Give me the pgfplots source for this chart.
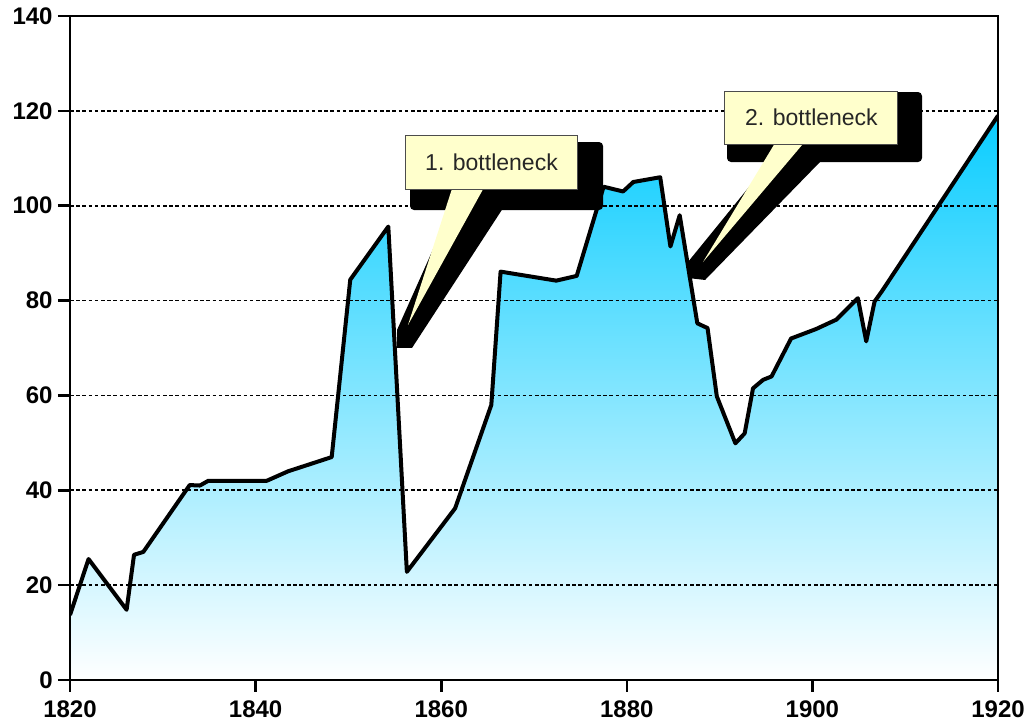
\documentclass[border=0pt]{standalone}
\usepackage{fontspec}
\setmainfont{Liberation Sans}
\usepackage{pgfplots}
\pgfplotsset{compat=1.18}

\definecolor{areatop}{RGB}{10,205,255}
\definecolor{notefill}{RGB}{255,255,204}

\begin{document}
\begin{tikzpicture}
  %% 1 px of the reference = 0.5pt
  \begin{axis}[
    scale only axis,
    width=464pt, height=332pt,
    xmin=1820, xmax=1920,
    ymin=0, ymax=140,
    xtick={1820,1840,...,1920},
    ytick={0,20,...,140},
    xtick pos=bottom, ytick pos=left,
    tick align=outside,
    major tick length=6pt,
    tick style={black, line width=1.3pt},
    axis line style={black, line width=1.4pt},
    axis on top,
    /pgf/number format/assume math mode=true,
    /pgf/number format/1000 sep={},
    ticklabel style={font=\bfseries\fontsize{12}{14}\selectfont, inner sep=0pt},
    yticklabel style={anchor=east, xshift=-2.5pt},
    xticklabel style={anchor=north, yshift=-4pt},
  ]
    %% area under the curve
    \addplot[draw=none, top color=areatop, bottom color=white] coordinates {
      (1820,13.7) (1822,25.5) (1826.1,14.8) (1826.9,26.4) (1827.9,27)
      (1832.9,41.1) (1834,41) (1834.9,42) (1841.2,42) (1843.5,44)
      (1848.2,47) (1850.2,84.4) (1854.3,95.6) (1856.3,22.8) (1861.5,36.2)
      (1865.4,58) (1866.4,86.1) (1872.4,84.2) (1874.6,85.2) (1877.5,104)
      (1879.6,103) (1880.7,105) (1883.6,106) (1884.7,91.4) (1885.7,98)
      (1887.6,75.2) (1888.7,74.2) (1889.7,59.8) (1891.7,49.9) (1892.7,52)
      (1893.6,61.5) (1894.7,63.3) (1895.6,64) (1897.7,72) (1900.4,74)
      (1902.6,76) (1904.9,80.5) (1905.8,71.4) (1906.7,79.8) (1907.5,82)
      (1920,119)
    } \closedcycle;

    %% dotted grid, above the fill and below the outline
    \pgfplotsinvokeforeach{20,40,60,80,100,120}{
      \draw[black, line width=0.9pt, dash pattern=on 1.8pt off 1.3pt]
        (axis cs:1820,#1) -- (axis cs:1920,#1);
    }

    %% outline
    \addplot[black, line width=2pt, line join=round] coordinates {
      (1820,13.7) (1822,25.5) (1826.1,14.8) (1826.9,26.4) (1827.9,27)
      (1832.9,41.1) (1834,41) (1834.9,42) (1841.2,42) (1843.5,44)
      (1848.2,47) (1850.2,84.4) (1854.3,95.6) (1856.3,22.8) (1861.5,36.2)
      (1865.4,58) (1866.4,86.1) (1872.4,84.2) (1874.6,85.2) (1877.5,104)
      (1879.6,103) (1880.7,105) (1883.6,106) (1884.7,91.4) (1885.7,98)
      (1887.6,75.2) (1888.7,74.2) (1889.7,59.8) (1891.7,49.9) (1892.7,52)
      (1893.6,61.5) (1894.7,63.3) (1895.6,64) (1897.7,72) (1900.4,74)
      (1902.6,76) (1904.9,80.5) (1905.8,71.4) (1906.7,79.8) (1907.5,82)
      (1920,119)
    };

    %% callout 1
    \fill[black, rounded corners=2pt]
      (axis cs:1856.64,113.43) rectangle (axis cs:1877.44,99.09);
    \fill[black]
      (axis cs:1861.49,101.2) -- (axis cs:1866.88,100.15)
      -- (axis cs:1856.85,70.0) -- (axis cs:1855.24,70.0)
      -- (axis cs:1855.24,73.8) -- cycle;
    \fill[notefill]
      (axis cs:1861.2,103.8) -- (axis cs:1864.6,103.8)
      -- (axis cs:1856.42,74.85) -- cycle;
    \filldraw[fill=notefill, draw=black!70, line width=0.5pt]
      (axis cs:1856.10,114.70) rectangle (axis cs:1874.74,103.52);
    \node[font=\fontsize{11.5}{13}\selectfont, text=black!85]
      at (axis cs:1865.42,109.11) {1. bottleneck};

    %% callout 2
    \fill[black, rounded corners=2pt]
      (axis cs:1890.80,123.97) rectangle (axis cs:1911.81,109.21);
    \fill[black]
      (axis cs:1895.97,110.69) -- (axis cs:1901.03,109.64)
      -- (axis cs:1888.43,84.34) -- (axis cs:1886.59,84.76)
      -- (axis cs:1886.59,88.13) -- cycle;
    \fill[notefill]
      (axis cs:1896.0,113.3) -- (axis cs:1899.1,113.3)
      -- (axis cs:1888.21,88.13) -- cycle;
    \filldraw[fill=notefill, draw=black!70, line width=0.5pt]
      (axis cs:1890.58,124.18) rectangle (axis cs:1909.22,113.01);
    \node[font=\fontsize{11.5}{13}\selectfont, text=black!85]
      at (axis cs:1899.90,118.6) {2. bottleneck};
  \end{axis}
  %% page = 1027 x 721 px of the reference
  \path (-35pt,-20.5pt) rectangle (478.5pt,340pt);
\end{tikzpicture}
\end{document}
